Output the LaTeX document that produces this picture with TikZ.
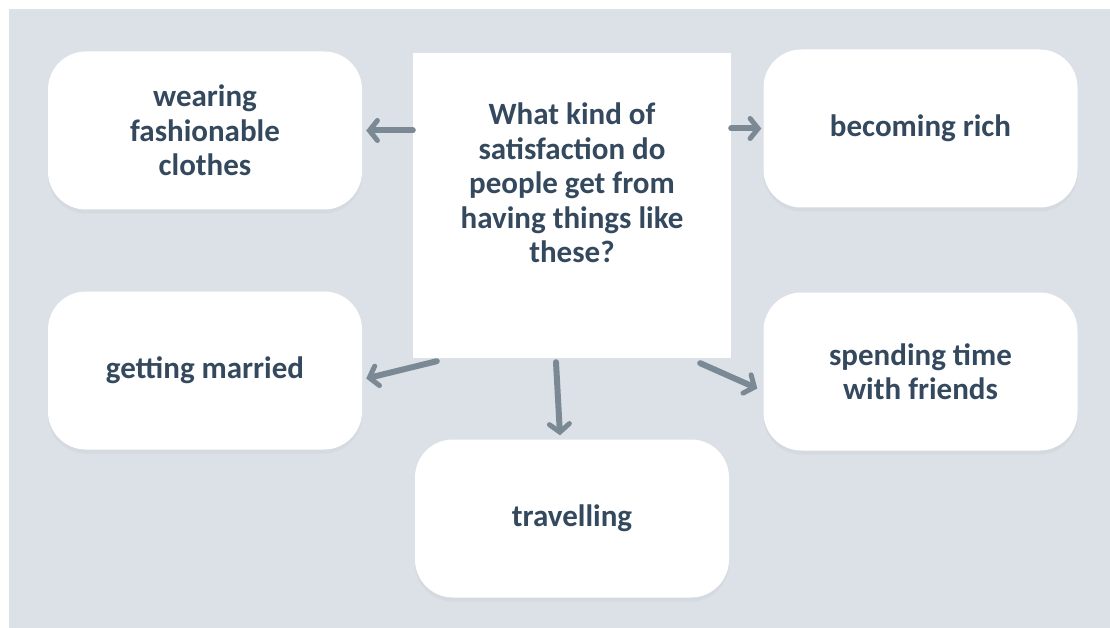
\documentclass[tikz,border=0pt]{standalone}
\usepackage{fontspec}
\setmainfont{Carlito}
\usepackage{tikz}
\usetikzlibrary{arrows.meta,positioning,shadows}

\definecolor{bggrey}{HTML}{DCE1E8}
\definecolor{arrowgrey}{HTML}{7A8994}
\definecolor{inktext}{HTML}{34495E}

\begin{document}
\begin{tikzpicture}[x=1pt,y=1pt,on grid,
    font=\fontsize{31}{34.5}\selectfont\bfseries,
    bubble/.style={fill=white,rounded corners=38pt,minimum width=314pt,minimum height=158pt,
      text=inktext,align=center,
      drop shadow={opacity=0.07,shadow xshift=0pt,shadow yshift=-4pt}},
    question/.style={fill=white,minimum width=318pt,minimum height=305pt,text=inktext,align=center},
    pointer/.style={arrowgrey,line width=6pt,line cap=round,
      -{Straight Barb[length=8pt,width=20pt,line width=5pt,line cap=round]}}]
  \useasboundingbox (0,0) rectangle (1110,-628);
  \fill[bggrey] (9,-9) rectangle (1110,-628);

  \node[question]          (Q)    at (572,-205.5)  {What kind of\\satisfaction do\\people get from\\having things like\\these?\\ \strut};
  \node[bubble]            (wear) [above left=75pt and 367pt of Q]  {wearing\\fashionable\\clothes};
  \node[bubble]            (rich) [above right=77pt and 348.5pt of Q] {becoming rich};
  \node[bubble]            (marr) [below left=165pt and 367pt of Q] {getting married};
  \node[bubble]            (frnd) [below right=166pt and 348.5pt of Q] {spending time\\with friends};
  \node[bubble]            (trav) [below=313pt of Q]  {travelling};

  \draw[pointer] (Q.west |- wear.east) -- ([xshift=4pt]wear.east);
  \draw[pointer] (Q.east |- rich.west) -- ([xshift=-2pt]rich.west);
  \draw[pointer] ([xshift=24pt,yshift=-3pt]Q.south west) -- ([xshift=4pt,yshift=-8pt]marr.east);
  \draw[pointer] ([xshift=-16pt,yshift=-4pt]Q.south) -- ([xshift=-12pt,yshift=4pt]trav.north);
  \draw[pointer] ([xshift=-31pt,yshift=-5pt]Q.south east) -- ([xshift=-6pt,yshift=-17pt]frnd.west);
\end{tikzpicture}
\end{document}
